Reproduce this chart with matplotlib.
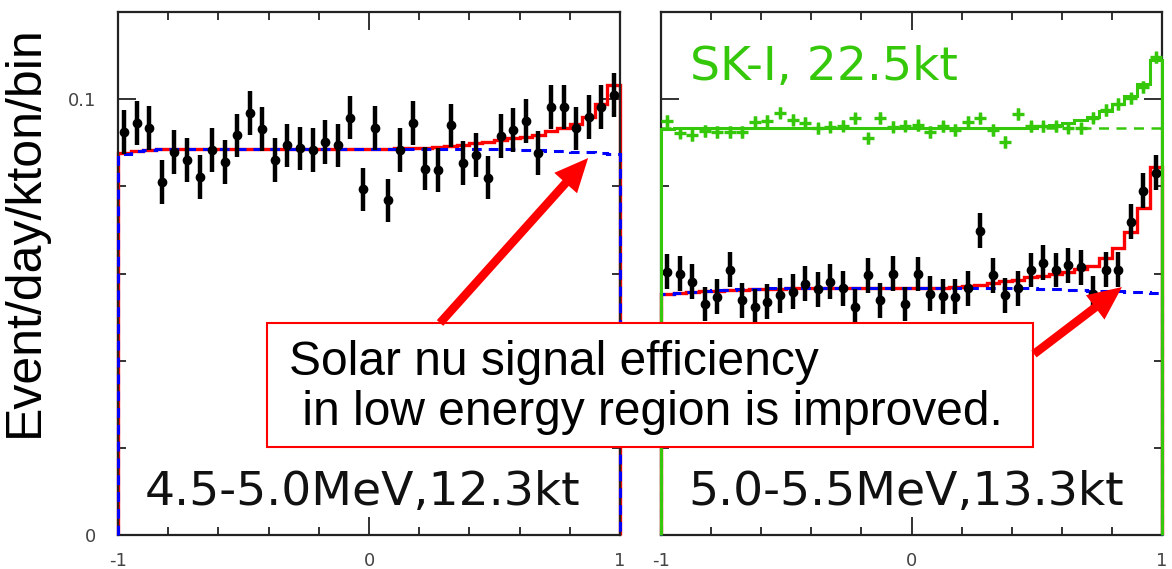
"""
Solar neutrino direction distributions (cos theta_sun) for two low
energy bins, with the SK-I shape shown for comparison.
"""

import matplotlib.pyplot as plt
import numpy as np
from matplotlib.patches import Rectangle
from matplotlib.ticker import FixedLocator, MultipleLocator

GREEN = '#35c80a'

# 40 bins in cos(theta_sun)
edges = np.linspace(-1, 1, 41)
centers = 0.5 * (edges[:-1] + edges[1:])

# 4.5-5.0 MeV, 12.3 kt
low_data = [0.0925, 0.0946, 0.0934, 0.0810, 0.0879, 0.0860, 0.0822, 0.0883, 0.0856, 0.0917,
            0.0969, 0.0931, 0.0860, 0.0894, 0.0887, 0.0883, 0.0902, 0.0894, 0.0958, 0.0793,
            0.0934, 0.0768, 0.0883, 0.0946, 0.0841, 0.0837, 0.0940, 0.0854, 0.0872, 0.0820,
            0.0915, 0.0930, 0.0950, 0.0877, 0.0982, 0.0982, 0.0933, 0.0959, 0.0982, 0.1010]
low_err = 0.005
low_total = [0.0876, 0.0882, 0.0884, 0.0885, 0.0885, 0.0885, 0.0885, 0.0885, 0.0885, 0.0885,
             0.0885, 0.0885, 0.0885, 0.0885, 0.0885, 0.0885, 0.0885, 0.0885, 0.0885, 0.0885,
             0.0885, 0.0886, 0.0887, 0.0888, 0.0889, 0.0891, 0.0893, 0.0896, 0.0899, 0.0902,
             0.0906, 0.0910, 0.0914, 0.0918, 0.0927, 0.0935, 0.0944, 0.0960, 0.0990, 0.1032]
low_bkg = [0.0874, 0.0881, 0.0884, 0.0885, 0.0885, 0.0885, 0.0885, 0.0885, 0.0885, 0.0885,
           0.0885, 0.0885, 0.0885, 0.0885, 0.0885, 0.0885, 0.0885, 0.0885, 0.0885, 0.0885,
           0.0885, 0.0885, 0.0885, 0.0885, 0.0885, 0.0885, 0.0885, 0.0885, 0.0885, 0.0885,
           0.0885, 0.0885, 0.0884, 0.0883, 0.0882, 0.0881, 0.0880, 0.0878, 0.0877, 0.0875]

# 5.0-5.5 MeV, 13.3 kt
high_data = [0.0604, 0.0600, 0.0581, 0.0530, 0.0547, 0.0609, 0.0539, 0.0524, 0.0535, 0.0550,
             0.0558, 0.0577, 0.0564, 0.0581, 0.0566, 0.0524, 0.0596, 0.0539, 0.0600, 0.0530,
             0.0599, 0.0554, 0.0548, 0.0547, 0.0566, 0.0698, 0.0596, 0.0550, 0.0566, 0.0608,
             0.0625, 0.0608, 0.0619, 0.0614, 0.0554, 0.0609, 0.0609, 0.0719, 0.0790, 0.0831]
high_err = 0.004
high_total = [0.0554, 0.0556, 0.0558, 0.0560, 0.0561, 0.0562, 0.0563, 0.0564, 0.0565, 0.0565,
              0.0566, 0.0566, 0.0566, 0.0566, 0.0566, 0.0566, 0.0566, 0.0566, 0.0566, 0.0566,
              0.0566, 0.0566, 0.0567, 0.0569, 0.0571, 0.0574, 0.0578, 0.0582, 0.0586, 0.0591,
              0.0595, 0.0599, 0.0604, 0.0610, 0.0618, 0.0635, 0.0658, 0.0696, 0.0750, 0.0845]
high_bkg = [0.0552, 0.0555, 0.0558, 0.0560, 0.0562, 0.0563, 0.0564, 0.0565, 0.0566, 0.0566,
            0.0566, 0.0566, 0.0566, 0.0566, 0.0566, 0.0566, 0.0566, 0.0566, 0.0566, 0.0566,
            0.0566, 0.0566, 0.0566, 0.0566, 0.0566, 0.0566, 0.0566, 0.0566, 0.0566, 0.0566,
            0.0565, 0.0564, 0.0563, 0.0562, 0.0561, 0.0560, 0.0559, 0.0558, 0.0557, 0.0556]

# SK-I, 22.5 kt
sk1_data = [0.0950, 0.0923, 0.0917, 0.0927, 0.0925, 0.0925, 0.0925, 0.0948, 0.0950, 0.0969,
            0.0953, 0.0946, 0.0933, 0.0937, 0.0939, 0.0956, 0.0910, 0.0957, 0.0937, 0.0939,
            0.0940, 0.0925, 0.0938, 0.0929, 0.0948, 0.0956, 0.0929, 0.0902, 0.0966, 0.0938,
            0.0938, 0.0938, 0.0935, 0.0933, 0.0958, 0.0975, 0.0989, 0.1002, 0.1028, 0.1096]
sk1_fit = [0.0931, 0.0934, 0.0935, 0.0935, 0.0935, 0.0935, 0.0935, 0.0935, 0.0935, 0.0935,
           0.0935, 0.0935, 0.0935, 0.0935, 0.0935, 0.0935, 0.0935, 0.0935, 0.0935, 0.0935,
           0.0935, 0.0935, 0.0935, 0.0935, 0.0935, 0.0935, 0.0935, 0.0935, 0.0935, 0.0935,
           0.0938, 0.0941, 0.0945, 0.0952, 0.0960, 0.0972, 0.0988, 0.1008, 0.1035, 0.1090]
sk1_bkg = 0.0933


def setup_axes(ax, show_ylabels):
    ax.set_xlim(-1, 1)
    ax.set_ylim(0, 0.12)
    ax.xaxis.set_major_locator(FixedLocator([-1, 0, 1]))
    ax.xaxis.set_minor_locator(MultipleLocator(0.2))
    ax.yaxis.set_major_locator(FixedLocator([0, 0.1]))
    ax.yaxis.set_minor_locator(MultipleLocator(0.02))
    ax.set_xticklabels(['-1', '0', '1'])
    ax.set_yticklabels(['0', '0.1'])
    ax.tick_params(which='both', direction='in', top=True, right=True,
                   width=1.3, color='#222')
    ax.tick_params(which='major', length=13)
    ax.tick_params(which='minor', length=6)
    ax.tick_params(axis='x', labelsize=13, labelcolor='#444', pad=12)
    ax.tick_params(axis='y', labelsize=13, labelcolor='#444', pad=16,
                   labelleft=show_ylabels)
    for sp in ax.spines.values():
        sp.set_linewidth(1.6)
        sp.set_color('#222')


def draw_panel(ax, data, err, total, bkg):
    ax.stairs(total, edges, baseline=0, color='red', lw=2.4,
              clip_on=False, zorder=2)
    ax.stairs(bkg, edges, baseline=0, color='blue', lw=2.2,
              ls=(0, (3.2, 2.3)), clip_on=False, zorder=3)
    ax.errorbar(centers, data, yerr=err, fmt='o', color='black', ms=6,
                elinewidth=3.2, capsize=0, zorder=4)


fig = plt.figure(figsize=(11.72, 5.69), dpi=100)
ax1 = fig.add_axes([0.1007, 0.0598, 0.4283, 0.919])
ax2 = fig.add_axes([0.564, 0.0598, 0.4275, 0.919])

setup_axes(ax1, True)
setup_axes(ax2, False)

draw_panel(ax1, low_data, low_err, low_total, low_bkg)
draw_panel(ax2, high_data, high_err, high_total, high_bkg)

# SK-I reference shape
ax2.axhline(sk1_bkg, color=GREEN, lw=1.8, ls=(0, (4, 3)), zorder=2)
ax2.stairs(sk1_fit, edges, baseline=0, color=GREEN, lw=2.2,
           clip_on=False, zorder=5)
ax2.errorbar(centers, sk1_data, yerr=0.0013, fmt='+', color=GREEN, ms=9,
             mew=2.4, elinewidth=2.4, capsize=0, zorder=5)

label_kw = dict(fontsize=34, family='DejaVu Sans', color='#111')
ax1.text(0.054, 0.057, '4.5-5.0MeV,12.3kt', transform=ax1.transAxes, **label_kw)
ax2.text(0.054, 0.057, '5.0-5.5MeV,13.3kt', transform=ax2.transAxes, **label_kw)
ax2.text(0.058, 0.870, 'SK-I, 22.5kt', transform=ax2.transAxes,
         fontsize=34, family='DejaVu Sans', color=GREEN)

fig.text(0.021, 0.594, 'Event/day/kton/bin', rotation=90, fontsize=36,
         family='Liberation Sans', ha='center', va='center')

# overlay in pixel units for the comment box and arrows
ov = fig.add_axes([0, 0, 1, 1])
ov.set_xlim(0, 1172)
ov.set_ylim(569, 0)
ov.axis('off')

ov.add_patch(Rectangle((267, 323), 766, 124, fc='white', ec='red', lw=1.5))
note_kw = dict(fontsize=34.5, family='Liberation Sans',
               va='baseline', ha='left', color='black')
ov.text(289, 375, 'Solar nu signal efficiency', **note_kw)
ov.text(289, 425, ' in low energy region is improved.', **note_kw)

arrow = dict(arrowstyle='simple,head_length=1.1,head_width=1.0,tail_width=0.28',
             mutation_scale=22, fc='red', ec='red', lw=0, shrinkA=0, shrinkB=0)
ov.annotate('', xy=(0.873, 0.0865), xycoords=ax1.transData,
            xytext=(440, 323), textcoords='data', arrowprops=arrow)
ov.annotate('', xy=(0.840, 0.0569), xycoords=ax2.transData,
            xytext=(1034, 354), textcoords='data', arrowprops=arrow)

fig.savefig('out.png', dpi=100)
